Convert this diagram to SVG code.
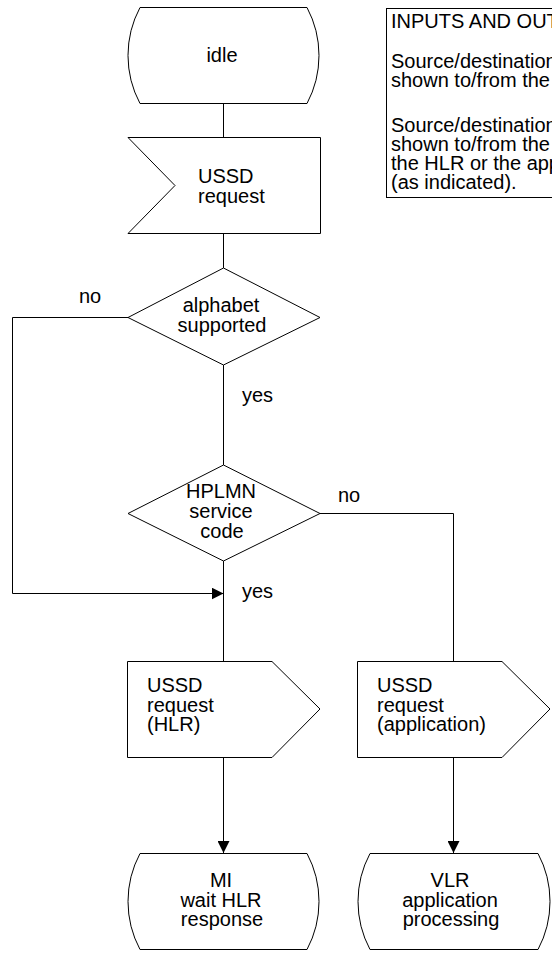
<svg xmlns="http://www.w3.org/2000/svg" width="552" height="953" viewBox="0 0 552 953">
<defs>
<style>
.s{fill:#fff;stroke:#000;stroke-width:1}
.c{fill:none;stroke:#000;stroke-width:1}
.t{font-family:"Liberation Sans",Arial,sans-serif;font-size:20px;fill:#000}
.m{text-anchor:middle}
</style>
<marker id="a" markerWidth="12" markerHeight="12" refX="12" refY="6" orient="auto" markerUnits="userSpaceOnUse">
<path d="M0,0 L12,6 L0,12 Z" fill="#000"/>
</marker>
</defs>
<rect width="552" height="953" fill="#fff"/>
<g id="connectors">
<path class="c" d="M223.5,103 V137"/>
<path class="c" d="M223.5,233 V268"/>
<path class="c" d="M223.5,365 V465"/>
<path class="c" d="M128,317.5 H12.5 V593.5 H223.5" marker-end="url(#a)"/>
<path class="c" d="M223.5,561 V661"/>
<path class="c" d="M320,513.5 H453.5 V661"/>
<path class="c" d="M223.5,757 V853" marker-end="url(#a)"/>
<path class="c" d="M453.5,757 V853" marker-end="url(#a)"/>
</g>
<g id="io-box">
<rect class="s" x="386.5" y="8.5" width="220" height="189"/>
<text class="t" x="391" y="28">INPUTS AND OUTPUTS</text>
<text class="t" x="391" y="68">Source/destination</text>
<text class="t" x="391" y="87">shown to/from the</text>
<text class="t" x="391" y="132">Source/destination</text>
<text class="t" x="391" y="151">shown to/from the</text>
<text class="t" x="391" y="170">the HLR or the application</text>
<text class="t" x="391" y="189">(as indicated).</text>
</g>
<g id="idle">
<path class="s" d="M140,7.5 H307 A102,102 0 0 1 307,103.5 H140 A102,102 0 0 1 140,7.5 Z"/>
<text class="t m" x="222" y="62">idle</text>
</g>
<g id="ussd-request-in">
<path class="s" d="M128,137.5 H320.5 V233.5 H128 L175,185.5 Z"/>
<text class="t" x="198" y="183">USSD</text>
<text class="t" x="198" y="203">request</text>
</g>
<g id="alphabet-supported">
<path class="s" d="M223.5,268 L320,317.5 L223.5,365 L128,317.5 Z"/>
<text class="t m" x="221" y="312">alphabet</text>
<text class="t m" x="222" y="332">supported</text>
</g>
<g id="hplmn-service-code">
<path class="s" d="M223.5,465 L320,513.5 L223.5,561 L128,513.5 Z"/>
<text class="t m" x="221" y="498">HPLMN</text>
<text class="t m" x="221" y="518">service</text>
<text class="t m" x="222" y="538">code</text>
</g>
<g id="labels">
<text class="t" x="79" y="303">no</text>
<text class="t" x="242" y="402">yes</text>
<text class="t" x="338" y="502">no</text>
<text class="t" x="242" y="598">yes</text>
</g>
<g id="ussd-request-hlr">
<path class="s" d="M127.5,661.5 H272 L320,709 L272,757.5 H127.5 Z"/>
<text class="t" x="147" y="692">USSD</text>
<text class="t" x="147" y="712">request</text>
<text class="t" x="147" y="731">(HLR)</text>
</g>
<g id="ussd-request-app">
<path class="s" d="M357.5,661.5 H502 L550,709 L502,757.5 H357.5 Z"/>
<text class="t" x="377" y="692">USSD</text>
<text class="t" x="377" y="712">request</text>
<text class="t" x="377" y="731">(application)</text>
</g>
<g id="mi-wait-hlr-response">
<path class="s" d="M140,853.5 H307 A102,102 0 0 1 307,949.5 H140 A102,102 0 0 1 140,853.5 Z"/>
<text class="t m" x="221" y="887">MI</text>
<text class="t m" x="221" y="907">wait HLR</text>
<text class="t m" x="222" y="926">response</text>
</g>
<g id="vlr-application-processing">
<path class="s" d="M370,853.5 H538 A102,102 0 0 1 538,949.5 H370 A102,102 0 0 1 370,853.5 Z"/>
<text class="t m" x="450" y="887">VLR</text>
<text class="t m" x="450" y="907">application</text>
<text class="t m" x="451" y="926">processing</text>
</g>
</svg>
